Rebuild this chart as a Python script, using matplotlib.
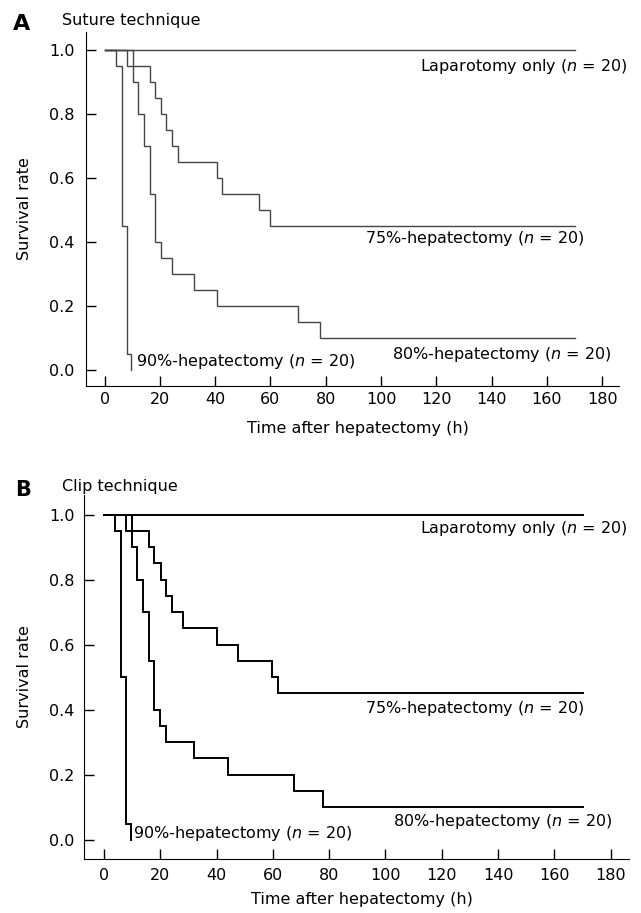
import matplotlib
matplotlib.use("Agg")
import matplotlib.pyplot as plt

# --------------------------------------------------
# Data: Kaplan-Meier steps
# --------------------------------------------------
# Panel A - suture technique
lap_t_A = [0, 170]
lap_s_A = [1.0, 1.0]
h75_t_A = [0, 8.2, 16.3, 18.2, 20.5, 22.3, 24.4, 26.4, 40.5, 42.5, 56.0, 60.0, 170]
h75_s_A = [1.0, 0.95, 0.90, 0.85, 0.80, 0.75, 0.70, 0.65, 0.60, 0.55, 0.50, 0.45, 0.45]
h80_t_A = [0, 10.2, 12.2, 14.2, 16.3, 18.2, 20.3, 24.3, 32.3, 40.5, 70.0, 78.0, 170]
h80_s_A = [1.0, 0.90, 0.80, 0.70, 0.55, 0.40, 0.35, 0.30, 0.25, 0.20, 0.15, 0.10, 0.10]
h90_t_A = [0, 4.3, 6.4, 8.2, 9.4]
h90_s_A = [1.0, 0.95, 0.45, 0.05, 0.0]

# Panel B - clip technique
lap_t_B = [0, 170]
lap_s_B = [1.0, 1.0]
h75_t_B = [0, 7.8, 16.0, 17.9, 20.1, 21.9, 24.0, 27.9, 40.1, 47.5, 59.6, 61.7, 170]
h75_s_B = [1.0, 0.95, 0.90, 0.85, 0.80, 0.75, 0.70, 0.65, 0.60, 0.55, 0.50, 0.45, 0.45]
h80_t_B = [0, 9.8, 11.9, 14.0, 16.0, 17.9, 19.9, 22.0, 32.1, 44.2, 67.6, 77.7, 170]
h80_s_B = [1.0, 0.90, 0.80, 0.70, 0.55, 0.40, 0.35, 0.30, 0.25, 0.20, 0.15, 0.10, 0.10]
h90_t_B = [0, 3.9, 5.9, 7.8, 9.6]
h90_s_B = [1.0, 0.95, 0.50, 0.05, 0.0]

x_ticks = [0, 20, 40, 60, 80, 100, 120, 140, 160, 180]
y_ticks = [0.0, 0.2, 0.4, 0.6, 0.8, 1.0]

group_labels = [
    "Laparotomy only ($\\mathit{n}$ = 20)",
    "75%-hepatectomy ($\\mathit{n}$ = 20)",
    "80%-hepatectomy ($\\mathit{n}$ = 20)",
    "90%-hepatectomy ($\\mathit{n}$ = 20)",
]

# --------------------------------------------------
# Figure
# --------------------------------------------------
plt.rcParams["font.family"] = ["DejaVu Sans"]
plt.rcParams["mathtext.fontset"] = "dejavusans"
FS = 11.5
W, H = 641, 913
fig = plt.figure(figsize=(W / 100, H / 100), dpi=100)


def px(x, y):
    return x / W, 1 - y / H


def axes_px(left, top, right, bottom):
    return [left / W, 1 - bottom / H, (right - left) / W, (bottom - top) / H]


def draw_panel(rect, xlim, ylim, curves, color, lw, label_pos, xpad, ypad, xlab_y):
    ax = fig.add_axes(rect)
    for t, s in curves:
        ax.step(t, s, where="post", color=color, lw=lw, solid_joinstyle="miter")
    ax.set_xlim(*xlim)
    ax.set_ylim(*ylim)
    ax.set_xticks(x_ticks)
    ax.set_yticks(y_ticks)
    ax.set_yticklabels([f"{v:.1f}" for v in y_ticks])
    ax.spines["top"].set_visible(False)
    ax.spines["right"].set_visible(False)
    ax.tick_params(direction="in", length=7, width=1, labelsize=FS)
    ax.tick_params(axis="x", pad=xpad)
    ax.tick_params(axis="y", pad=ypad)
    ax.set_xlabel("Time after hepatectomy (h)", fontsize=FS)
    ax.xaxis.set_label_coords(0.51, xlab_y)
    for lab, (tx, sy, ha) in zip(group_labels, label_pos):
        ax.text(tx, sy, lab, ha=ha, va="center", fontsize=FS, clip_on=False)
    return ax


# Panel A
draw_panel(
    axes_px(85.5, 32, 619.3, 386),
    (-6.9, 186.2), (-0.05, 1.056),
    [(lap_t_A, lap_s_A), (h75_t_A, h75_s_A), (h80_t_A, h80_s_A), (h90_t_A, h90_s_A)],
    "#444444", 1.0,
    [(189.0, 0.948, "right"), (173.8, 0.41, "right"),
     (183.5, 0.047, "right"), (11.2, 0.027, "left")],
    4.5, 8, -0.098,
)
fig.text(*px(13, 24), "A", fontsize=16, fontweight="bold", ha="left", va="center")
fig.text(*px(62, 20), "Suture technique", fontsize=FS, ha="left", va="center")
fig.text(*px(25, 209), "Survival rate", fontsize=FS, rotation=90, ha="center", va="center")

# Panel B
draw_panel(
    axes_px(84, 495, 629, 859.3),
    (-7.1, 186.5), (-0.06, 1.06),
    [(lap_t_B, lap_s_B), (h75_t_B, h75_s_B), (h80_t_B, h80_s_B), (h90_t_B, h90_s_B)],
    "black", 1.4,
    [(185.8, 0.957, "right"), (170.9, 0.403, "right"),
     (180.5, 0.055, "right"), (10.3, 0.02, "left")],
    6, 7, -0.09,
)
fig.text(*px(15, 490), "B", fontsize=15, fontweight="bold", ha="left", va="center")
fig.text(*px(62, 486), "Clip technique", fontsize=FS, ha="left", va="center")
fig.text(*px(25, 677), "Survival rate", fontsize=FS, rotation=90, ha="center", va="center")

fig.savefig("out.png", dpi=100)
plt.close(fig)
